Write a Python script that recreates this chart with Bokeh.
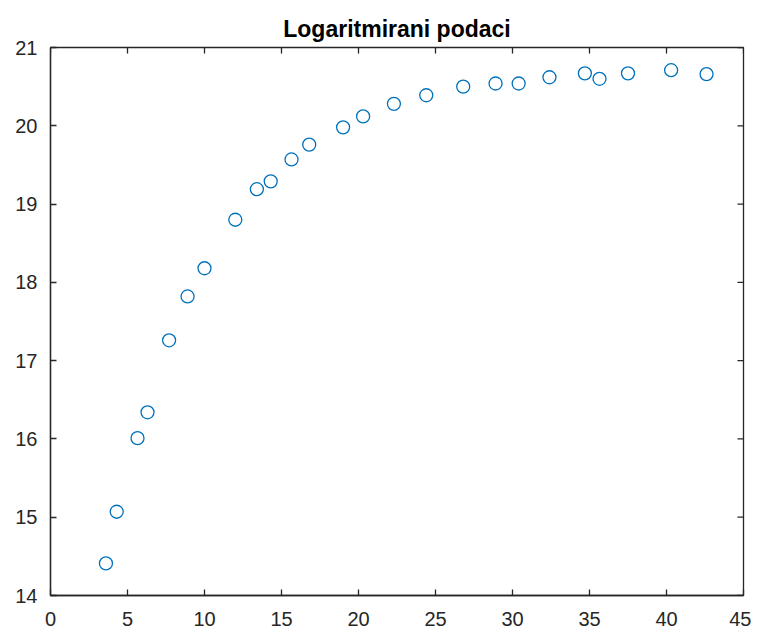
import math
from bokeh.plotting import figure
from bokeh.models import Range1d, SingleIntervalTicker
from bokeh.embed import file_html
from bokeh.resources import INLINE

title_text = "Logaritmirani podaci"
x_vals = [3.6, 4.3, 5.65, 6.3, 7.7, 8.9, 10.0, 12.0, 13.4, 14.3, 15.65, 16.8, 19.0,
          20.3, 22.3, 24.4, 26.8, 28.9, 30.4, 32.4, 34.7, 35.65, 37.5, 40.3, 42.6]
y_vals = [14.41, 15.07, 16.01, 16.34, 17.26, 17.82, 18.18, 18.80, 19.19, 19.29, 19.57,
          19.76, 19.98, 20.12, 20.28, 20.39, 20.50, 20.54, 20.54, 20.62, 20.67, 20.60,
          20.67, 20.71, 20.66]
x_limits = (0, 45)
y_limits = (14, 21)
x_ticks = [0, 5, 10, 15, 20, 25, 30, 35, 40, 45]
y_ticks = [14, 15, 16, 17, 18, 19, 20, 21]

AX = "#262626"
FONT = "Liberation Sans"

p = figure(frame_width=693, frame_height=548, output_backend="svg", toolbar_location=None,
           x_range=Range1d(*x_limits), y_range=Range1d(*y_limits),
           min_border_left=50, min_border_right=8, min_border_top=47, min_border_bottom=33)
p.title.text = title_text
p.title.align = "center"
p.title.text_font = FONT
p.title.text_font_size = "23px"
p.title.text_font_style = "bold"
p.title.text_color = "#000000"
p.title.standoff = 11
p.grid.visible = False
p.outline_line_color = AX
p.outline_line_width = 1.3
p.background_fill_color = "white"
p.border_fill_color = "white"

def style(ax, ticker):
    ax.ticker = ticker
    ax.axis_line_color = AX
    ax.axis_line_width = 1.3
    ax.major_tick_line_color = AX
    ax.major_tick_line_width = 1.3
    ax.major_tick_in = 6
    ax.major_tick_out = 0
    ax.minor_tick_line_color = None
    ax.major_label_text_font = FONT
    ax.major_label_text_font_size = "20px"
    ax.major_label_text_color = AX

style(p.xaxis[0], SingleIntervalTicker(interval=5))
style(p.yaxis[0], SingleIntervalTicker(interval=1))
p.xaxis[0].major_label_standoff = 12
p.yaxis[0].major_label_standoff = 9

# inward ticks on the top and right edges of the box (MATLAB "box on")
p.ray(x=x_ticks, y=[y_limits[1]] * len(x_ticks), length=6, length_units="screen",
      angle=-math.pi / 2, line_color=AX, line_width=1.3)
p.ray(x=[x_limits[1]] * len(y_ticks), y=y_ticks, length=6, length_units="screen",
      angle=math.pi, line_color=AX, line_width=1.3)

p.scatter(x_vals, y_vals, marker="circle", size=13, fill_color=None,
          line_color="#0072BD", line_width=1.3)

open("out.html", "w").write(file_html(p, INLINE))
